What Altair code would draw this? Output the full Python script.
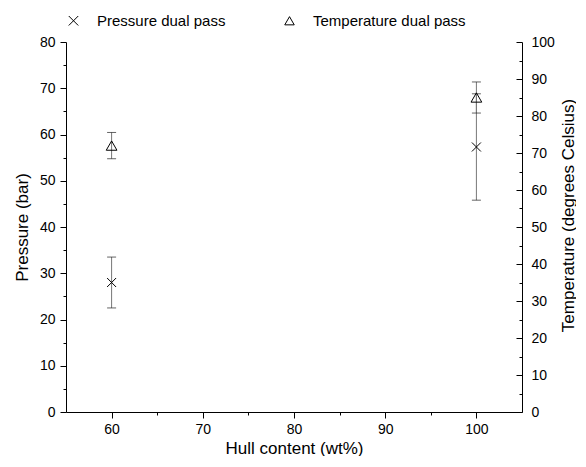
import altair as alt
import pandas as pd

# ---- data ----
hull = [60, 100]
pressure = [28.0, 57.3]
pressure_err = [5.5, 11.5]
temperature = [72.0, 85.0]
temperature_err = [3.55, 4.2]
series_names = ["Pressure dual pass", "Temperature dual pass"]

df_p = pd.DataFrame({"hull": hull, "value": pressure, "err": pressure_err,
                     "series": series_names[0]})
df_t = pd.DataFrame({"hull": hull, "value": temperature, "err": temperature_err,
                     "series": series_names[1]})

W, H = 456, 370
FONT = "Liberation Sans"
CROSS = "M-1,-1L1,1M1,-1L-1,1"

minor_tick = {"condition": {"test": "datum.value % 10 != 0", "value": 3}, "value": 6}
major_label = "datum.value % 10 == 0 ? datum.label : ''"

x_enc = alt.X(
    "hull:Q",
    scale=alt.Scale(domain=[55, 105], nice=False, zero=False),
    axis=alt.Axis(title="Hull content (wt%)", values=list(range(60, 101, 5)),
                  labelExpr=major_label, tickSize=minor_tick, labelPadding=4,
                  titlePadding=4),
)

shape_enc = alt.Shape(
    "series:N",
    scale=alt.Scale(domain=series_names, range=[CROSS, "triangle-up"]),
    legend=alt.Legend(title=None, orient="top", direction="horizontal",
                      symbolSize=90, symbolStrokeColor="black",
                      symbolFillColor="transparent", symbolStrokeWidth=1,
                      labelFontSize=15, labelOffset=16, columnPadding=56,
                      offset=13, padding=0),
)


def series_layer(df, domain, axis, size):
    base = alt.Chart(df).transform_calculate(
        lo="datum.value - datum.err", hi="datum.value + datum.err")
    sc = alt.Scale(domain=domain, nice=False, zero=True)

    def y(f):
        return alt.Y(f"{f}:Q", scale=sc, axis=axis)

    rule = base.mark_rule(color="#777777", strokeWidth=1).encode(
        x=x_enc, y=y("lo"), y2="hi:Q")
    cap_lo = base.mark_tick(orient="horizontal", size=9, thickness=1,
                            color="#222222").encode(x=x_enc, y=y("lo"))
    cap_hi = base.mark_tick(orient="horizontal", size=9, thickness=1,
                            color="#222222").encode(x=x_enc, y=y("hi"))
    pts = base.mark_point(filled=False, color="black", strokeWidth=1,
                          size=size, opacity=1).encode(
        x=x_enc, y=y("value"), shape=shape_enc)
    return alt.layer(rule, cap_lo, cap_hi, pts)


p_axis = alt.Axis(title="Pressure (bar)", orient="left",
                  values=list(range(0, 81, 5)), labelExpr=major_label,
                  tickSize=minor_tick, labelPadding=5, titlePadding=8)

t_axis = alt.Axis(title="Temperature (degrees Celsius)", orient="left",
                  offset=-W, values=list(range(0, 101, 5)),
                  labelExpr=major_label, tickSize=minor_tick,
                  labelAlign="left", labelPadding=-15,
                  titleX=46, titleY=H / 2 - 12, titleAngle=270,
                  titleAlign="center", titleBaseline="middle")

p_layer = series_layer(df_p, [0, 80], p_axis, 81)
t_layer = series_layer(df_t, [0, 100], t_axis, 115)

chart = (
    alt.layer(p_layer, t_layer)
    .resolve_scale(y="independent")
    .properties(width=W, height=H,
                padding={"left": 5, "top": 5, "right": 0, "bottom": 0})
    .configure_view(stroke="transparent")
    .configure_axis(grid=False, domainColor="black", tickColor="black",
                    domainWidth=1, tickWidth=1,
                    labelFont=FONT, titleFont=FONT, labelFontSize=14,
                    titleFontSize=17, titleFontWeight="normal",
                    labelColor="black", titleColor="black")
    .configure_legend(labelFont=FONT, labelColor="black")
)

chart.save("out.html", embed_options={"renderer": "svg", "actions": False})
